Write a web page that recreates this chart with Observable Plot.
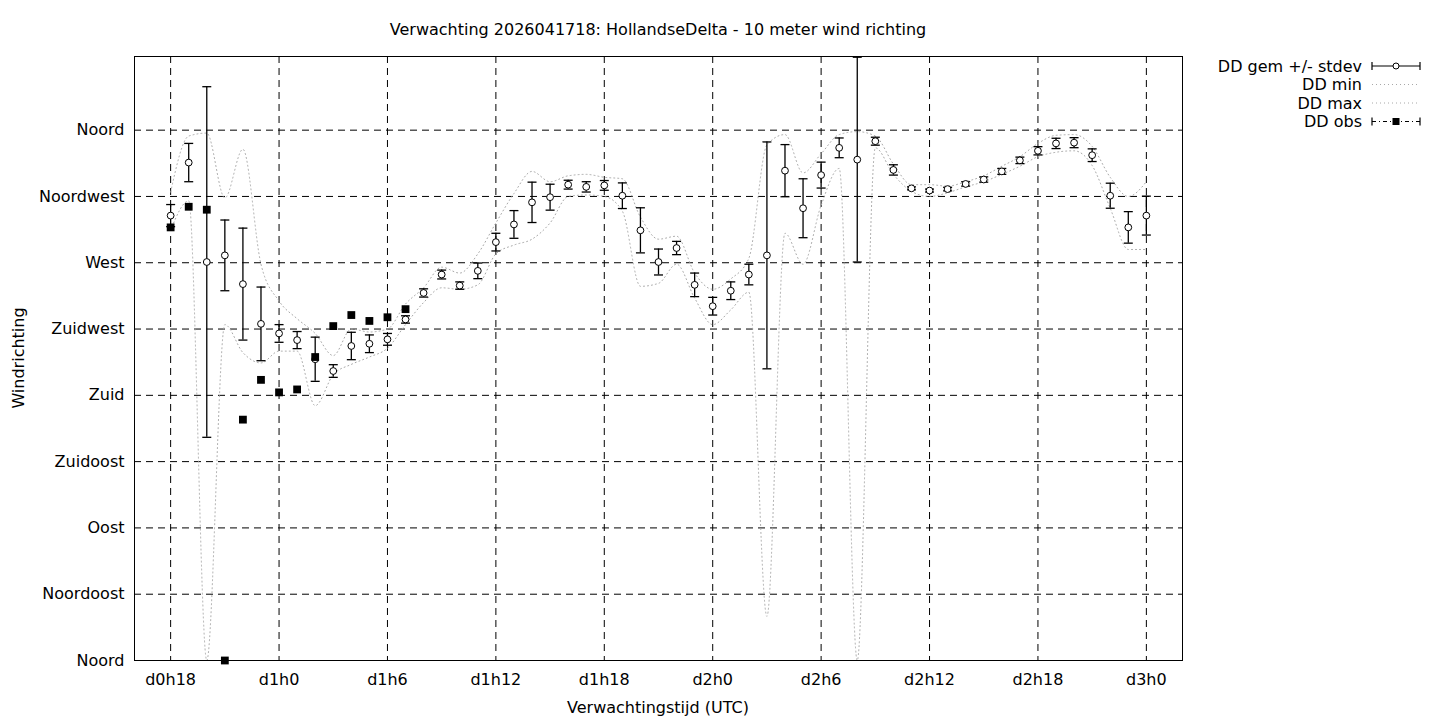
<!DOCTYPE html>
<html>
<head>
<meta charset="utf-8">
<script src="https://cdn.jsdelivr.net/npm/d3@7"></script>
<script src="https://cdn.jsdelivr.net/npm/@observablehq/plot@0.6"></script>
<style>
  html, body { margin: 0; padding: 0; background: white; }
  #chart { width: 1440px; height: 720px; }
</style>
</head>
<body>
<div id="chart"></div>
<script>
// Forecast hours (hours after d0h0)
const hours = [18,19,20,21,22,23,24,25,26,27,28,29,30,31,32,33,34,35,36,37,38,39,40,41,42,43,44,45,46,47,48,49,50,51,52,53,54,55,56,57,58,59,60,61,62,63,64,65,66,67,68,69,70,71,72];
// Mean wind direction (degrees)
const ddMean = [302,338,270.5,275,255.5,228.5,222,217.5,204.5,196.5,213.5,215,218,231.5,249.5,262,254.5,264.5,284,296,311,314.5,323,321.5,322.5,315.5,292,270.5,280,255,240.5,251,262,275,332.5,307,329.5,348,340,352.5,333,320.5,319,320,323.5,326.5,332,339.5,346,351,351.5,343,315.5,294,302];
// Standard deviation (degrees)
const ddStdev = [7.5,13,119,24,38,25,6,5.8,15,4.3,9.3,6,4,2.5,2.8,3,2.5,5.3,6,9.4,13.7,8.8,3,3.5,3.3,8.7,15.3,8.8,4.5,8,6,6,7,77,17.7,20,8.8,6.7,69.5,2.7,3.5,1,1,1.2,1.5,1.8,2,2.2,2.8,3.5,3.4,4.3,8.5,10.7,13.2];
// Minimum of ensemble (degrees)
const ddMin = [292,312,0,228,209,202,210,210,173,194,201,206,212,228,243,253,252,255,276,282,286,297,315,316,315,305,254,256,269,246,228,238,250,30,290,269,309,334,0,348,330,318.5,315,317.5,321.5,325,330,335.5,342,345,346,336,307,279,279];
// Maximum of ensemble (degrees)
const ddMax = [318,356,358,314,347,269,244,232,222,207,225,223,225,242,253,267,263,276,297,317,332,325,329,330,328,327,301,286,288,263,252,259,273,350,357,331,344,357,359,356,337,323,323,322,325,329,335.5,342,351,356.5,357,349,328,315,325];
// Observations
const obsHours = [18,19,20,21,22,23,24,25,26,27,28,29,30,31];
const ddObs = [294,308,306,0,163.5,190.5,182,184,206,227,234.5,230.5,233,238.5];

// Axis ticks
const xTicks = [18,24,30,36,42,48,54,60,66,72];
const yTicks = [0,45,90,135,180,225,270,315,360];
const yTickLabels = ["Noord","Noordoost","Oost","Zuidoost","Zuid","Zuidwest","West","Noordwest","Noord"];

const titleText = "Verwachting 2026041718: HollandseDelta - 10 meter wind richting";
const xLabel = "Verwachtingstijd (UTC)";
const yLabel = "Windrichting";
const legendLabels = ["DD gem +/- stdev","DD min","DD max","DD obs"];

const rows = hours.map((h, i) => ({h, mean: ddMean[i], sd: ddStdev[i], min: ddMin[i], max: ddMax[i]}));
const obsRows = obsHours.map((h, i) => ({h, obs: ddObs[i]}));

const capSymbol = {
  draw(ctx, size) {
    const w = Math.sqrt(size / Math.PI);
    ctx.moveTo(-w, 0);
    ctx.lineTo(w, 0);
  }
};

const FS = 16;
const dotted = {stroke: "#a8a8a8", strokeWidth: 1, strokeDasharray: "1,3", curve: "monotone-x", clip: true};

const chart = Plot.plot({
  width: 1440,
  height: 720,
  marginLeft: 134,
  marginRight: 258,
  marginTop: 56,
  marginBottom: 60,
  style: {fontFamily: "'DejaVu Sans', sans-serif", fontSize: FS + "px", color: "black", background: "white"},
  x: {domain: [16, 74]},
  y: {domain: [0, 410]},
  marks: [
    Plot.gridX(xTicks, {stroke: "black", strokeOpacity: 1, strokeDasharray: "7,5"}),
    Plot.gridY(yTicks, {stroke: "black", strokeOpacity: 1, strokeDasharray: "7,5"}),
    Plot.axisX(xTicks, {tickSize: 0, tickPadding: 13, fontSize: FS, label: null,
      tickFormat: h => `d${Math.floor(h / 24)}h${h % 24}`}),
    Plot.axisY(yTicks, {tickSize: 0, tickPadding: 10, fontSize: FS, label: null,
      tickFormat: (d, i) => yTickLabels[i]}),
    Plot.line(rows, {x: "h", y: "min", ...dotted}),
    Plot.line(rows, {x: "h", y: "max", ...dotted}),
    Plot.ruleX(rows, {x: "h", y1: d => d.mean - d.sd, y2: d => d.mean + d.sd, stroke: "black", strokeWidth: 1.3, clip: true}),
    Plot.dot(rows, {x: "h", y: d => d.mean - d.sd, symbol: capSymbol, r: 4.5, stroke: "black", strokeWidth: 1.3, clip: true}),
    Plot.dot(rows, {x: "h", y: d => d.mean + d.sd, symbol: capSymbol, r: 4.5, stroke: "black", strokeWidth: 1.3, clip: true}),
    Plot.dot(rows, {x: "h", y: "mean", r: 3.4, fill: "white", stroke: "black", strokeWidth: 1}),
    Plot.dot(obsRows, {x: "h", y: "obs", symbol: "square", r: 4.4, fill: "black", stroke: "none"}),
    Plot.frame({stroke: "black", strokeWidth: 1})
  ]
});

document.getElementById("chart").appendChild(chart);

// Titles and legend drawn into the same SVG
const svg = d3.select(chart);
const font = "'DejaVu Sans', sans-serif";
const fw = 1440 - 134 - 258;
svg.append("text").attr("x", 134 + fw / 2).attr("y", 29).attr("dy", "0.35em")
  .attr("text-anchor", "middle").attr("font-family", font).attr("font-size", FS).attr("fill", "black")
  .text(titleText);
svg.append("text").attr("x", 134 + fw / 2).attr("y", 707).attr("dy", "0.35em")
  .attr("text-anchor", "middle").attr("font-family", font).attr("font-size", FS).attr("fill", "black")
  .text(xLabel);
svg.append("text").attr("transform", `translate(18,${(56 + 660) / 2}) rotate(-90)`).attr("dy", "0.35em")
  .attr("text-anchor", "middle").attr("font-family", font).attr("font-size", FS).attr("fill", "black")
  .text(yLabel);

const lg = svg.append("g").attr("font-family", font).attr("font-size", FS);
const lx0 = 1372, lx1 = 1420, ltx = 1362;
legendLabels.forEach((lab, i) => {
  const y = 66 + i * 18.5;
  lg.append("text").attr("x", ltx).attr("y", y).attr("dy", "0.35em").attr("text-anchor", "end").attr("fill", "black").text(lab);
  if (i === 0 || i === 3) {
    lg.append("line").attr("x1", lx0).attr("x2", lx1).attr("y1", y).attr("y2", y)
      .attr("stroke", "black").attr("stroke-width", 1.2)
      .attr("stroke-dasharray", i === 3 ? "4,3,1,3" : null);
    [lx0, lx1].forEach(cx => lg.append("line").attr("x1", cx).attr("x2", cx).attr("y1", y - 4).attr("y2", y + 4)
      .attr("stroke", "black").attr("stroke-width", 1.2));
    const mx = (lx0 + lx1) / 2;
    if (i === 0) {
      lg.append("circle").attr("cx", mx).attr("cy", y).attr("r", 3).attr("fill", "white").attr("stroke", "black");
    } else {
      lg.append("rect").attr("x", mx - 3.5).attr("y", y - 3.5).attr("width", 7).attr("height", 7).attr("fill", "black");
    }
  } else {
    lg.append("line").attr("x1", lx0).attr("x2", lx1).attr("y1", y).attr("y2", y)
      .attr("stroke", "#a8a8a8").attr("stroke-width", 1).attr("stroke-dasharray", "1,3");
  }
});
</script>
</body>
</html>
